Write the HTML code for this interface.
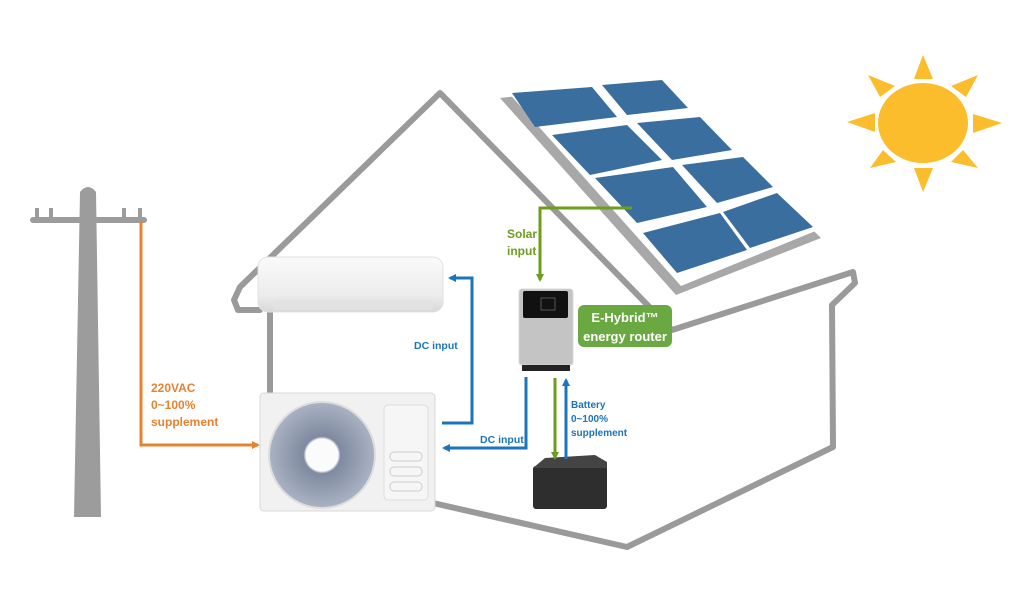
<!DOCTYPE html>
<html><head><meta charset="utf-8"><style>
html,body{margin:0;padding:0;background:#fff;}
svg{display:block;}
text{font-family:"Liberation Sans",sans-serif;font-weight:bold;}
</style></head><body>
<svg width="1024" height="597" viewBox="0 0 1024 597" xmlns="http://www.w3.org/2000/svg">
<defs>
<marker id="ab" markerWidth="8" markerHeight="8" refX="6" refY="4" orient="auto" markerUnits="userSpaceOnUse"><path d="M0,0 L8,4 L0,8 Z" fill="#1b75bb"/></marker>
<marker id="ag" markerWidth="8" markerHeight="8" refX="6" refY="4" orient="auto" markerUnits="userSpaceOnUse"><path d="M0,0 L8,4 L0,8 Z" fill="#6d9d1e"/></marker>
<marker id="ao" markerWidth="8" markerHeight="8" refX="6" refY="4" orient="auto" markerUnits="userSpaceOnUse"><path d="M0,0 L8,4 L0,8 Z" fill="#e8822f"/></marker>
<linearGradient id="ind" x1="0" y1="0" x2="0" y2="1"><stop offset="0" stop-color="#fafafa"/><stop offset="0.7" stop-color="#ececec"/><stop offset="1" stop-color="#d8d8d8"/></linearGradient>
<radialGradient id="fan"><stop offset="0.3" stop-color="#fff"/><stop offset="0.35" stop-color="#7f8aa0"/><stop offset="1" stop-color="#aab3c3"/></radialGradient>
</defs>

<g fill="none" stroke="#9a9a9a" stroke-width="6" stroke-linejoin="round" stroke-linecap="round">
<polyline points="260,310 238,310 234,300 240,287 440,93 672,330 853,272 855,283 832,305 833,447 627,547 433,503"/>
<line x1="270" y1="312" x2="270" y2="393"/>
</g>

<g fill="#9c9c9c">
<path d="M80,192 Q88,182 96,192 L101,517 L74,517 Z"/>
<rect x="30" y="217" width="117" height="6" rx="3"/>
<rect x="35" y="208" width="4" height="10"/><rect x="49" y="208" width="4" height="10"/>
<rect x="122" y="208" width="4" height="10"/><rect x="138" y="208" width="4" height="10"/>
</g>

<polygon points="500,98 660,81 821,238 676,295" fill="#a8a8a8"/>
<polygon points="506,90 662,76 818,230 681,286" fill="#fff"/>
<g fill="#3a6e9e">
<polygon points="512,93 592,87 617,117 535,127"/>
<polygon points="602,85 662,80 688,108 627,115"/>
<polygon points="552,135 627,125 662,160 590,175"/>
<polygon points="637,123 700,117 732,150 672,160"/>
<polygon points="595,178 673,167 707,207 637,223"/>
<polygon points="682,165 743,157 773,187 717,203"/>
<polygon points="643,233 720,213 747,250 677,273"/>
<polygon points="723,212 777,193 813,227 750,248"/>
</g>

<g fill="#fbbd2b">
<ellipse cx="923" cy="123" rx="45" ry="40"/>
<polygon points="923,55 914,79 933,79"/>
<polygon points="923,192 914,168 933,168"/>
<polygon points="847,122 875,113 875,132"/>
<polygon points="1002,123 973,114 973,133"/>
<polygon points="868,75 895,86 880,97"/>
<polygon points="978,75 951,86 966,97"/>
<polygon points="870,168 883,150 896,162"/>
<polygon points="978,168 963,150 951,162"/>
</g>

<rect x="258" y="257" width="185" height="55" rx="10" fill="url(#ind)" stroke="#e0e0e0"/>
<rect x="273" y="300" width="160" height="10" rx="3" fill="#e2e2e2"/>

<rect x="260" y="393" width="175" height="118" rx="4" fill="#f1f1f1" stroke="#d8d8d8"/>
<circle cx="322" cy="455" r="53" fill="url(#fan)" stroke="#ddd" stroke-width="2"/>
<circle cx="322" cy="455" r="16" fill="#fbfbfb"/>
<rect x="384" y="405" width="44" height="95" rx="4" fill="#f6f6f6" stroke="#ddd"/>
<rect x="390" y="452" width="32" height="9" rx="4" fill="none" stroke="#ccc"/>
<rect x="390" y="467" width="32" height="9" rx="4" fill="none" stroke="#ccc"/>
<rect x="390" y="482" width="32" height="9" rx="4" fill="none" stroke="#ccc"/>

<rect x="533" y="466" width="74" height="43" rx="3" fill="#2e2e2e"/>
<polygon points="533,468 545,458 595,455 607,462 607,468" fill="#444"/>

<polyline points="141,221 141,445 258,445" fill="none" stroke="#e8822f" stroke-width="3" marker-end="url(#ao)"/>
<text fill="#e8822f" font-size="12"><tspan x="151" y="392">220VAC</tspan><tspan x="151" y="409">0~100%</tspan><tspan x="151" y="426">supplement</tspan></text>

<polyline points="442,423 472,423 472,278 450,278" fill="none" stroke="#1b75bb" stroke-width="3" marker-end="url(#ab)"/>
<text x="414" y="349" fill="#1b75bb" font-size="10.5">DC input</text>
<polyline points="526,377 526,448 444,448" fill="none" stroke="#1b75bb" stroke-width="3" marker-end="url(#ab)"/>
<text x="480" y="443" fill="#1b75bb" font-size="10.5">DC input</text>
<line x1="566" y1="459" x2="566" y2="380" stroke="#1b75bb" stroke-width="3" marker-end="url(#ab)"/>
<text fill="#1b75bb" font-size="10"><tspan x="571" y="408">Battery</tspan><tspan x="571" y="422">0~100%</tspan><tspan x="571" y="436">supplement</tspan></text>

<polyline points="632,208 540,208 540,280" fill="none" stroke="#6d9d1e" stroke-width="3" marker-end="url(#ag)"/>
<text fill="#6d9d1e" font-size="12"><tspan x="507" y="238">Solar</tspan><tspan x="507" y="255">input</tspan></text>
<line x1="555" y1="378" x2="555" y2="458" stroke="#6d9d1e" stroke-width="3" marker-end="url(#ag)"/>

<rect x="519" y="289" width="54" height="76" rx="3" fill="#c4c4c4" stroke="#d8d8d8"/>
<rect x="523" y="291" width="45" height="27" rx="2" fill="#111"/>
<rect x="541" y="298" width="14" height="12" fill="none" stroke="#555" stroke-width="1"/>
<rect x="522" y="365" width="48" height="6" fill="#222"/>
<rect x="578" y="305" width="94" height="42" rx="6" fill="#6aa842"/>
<text x="625" y="322" fill="#fff" font-size="13" text-anchor="middle">E-Hybrid™</text>
<text x="625" y="341" fill="#fff" font-size="13" text-anchor="middle">energy router</text>
</svg>
</body></html>
